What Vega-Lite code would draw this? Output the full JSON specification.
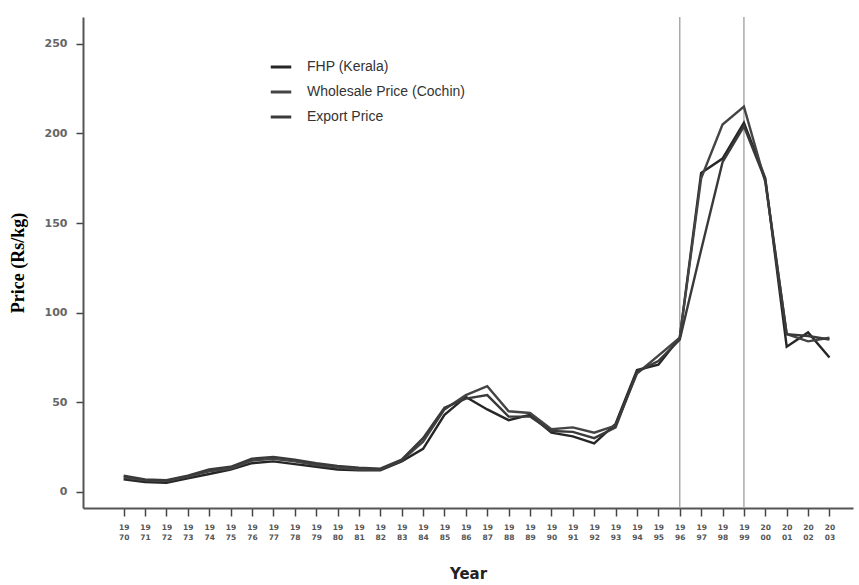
{
  "$schema": "https://vega.github.io/schema/vega-lite/v6.json",
  "width": 770,
  "height": 491,
  "autosize": {"type": "none"},
  "padding": {"left": 83, "top": 17, "right": 6, "bottom": 77},
  "background": "white",
  "config": {
    "view": {"stroke": null},
    "axis": {"grid": false}
  },
  "datasets": {
    "prices": [
      {"year": 1970, "series": "FHP (Kerala)", "price": 7},
      {"year": 1971, "series": "FHP (Kerala)", "price": 5.5},
      {"year": 1972, "series": "FHP (Kerala)", "price": 5},
      {"year": 1973, "series": "FHP (Kerala)", "price": 7.5},
      {"year": 1974, "series": "FHP (Kerala)", "price": 10},
      {"year": 1975, "series": "FHP (Kerala)", "price": 12.5},
      {"year": 1976, "series": "FHP (Kerala)", "price": 16},
      {"year": 1977, "series": "FHP (Kerala)", "price": 17},
      {"year": 1978, "series": "FHP (Kerala)", "price": 15.5},
      {"year": 1979, "series": "FHP (Kerala)", "price": 14},
      {"year": 1980, "series": "FHP (Kerala)", "price": 12.5},
      {"year": 1981, "series": "FHP (Kerala)", "price": 12},
      {"year": 1982, "series": "FHP (Kerala)", "price": 12},
      {"year": 1983, "series": "FHP (Kerala)", "price": 17},
      {"year": 1984, "series": "FHP (Kerala)", "price": 24},
      {"year": 1985, "series": "FHP (Kerala)", "price": 43},
      {"year": 1986, "series": "FHP (Kerala)", "price": 53},
      {"year": 1987, "series": "FHP (Kerala)", "price": 46},
      {"year": 1988, "series": "FHP (Kerala)", "price": 40},
      {"year": 1989, "series": "FHP (Kerala)", "price": 43},
      {"year": 1990, "series": "FHP (Kerala)", "price": 33},
      {"year": 1991, "series": "FHP (Kerala)", "price": 31},
      {"year": 1992, "series": "FHP (Kerala)", "price": 27},
      {"year": 1993, "series": "FHP (Kerala)", "price": 38},
      {"year": 1994, "series": "FHP (Kerala)", "price": 68},
      {"year": 1995, "series": "FHP (Kerala)", "price": 71},
      {"year": 1996, "series": "FHP (Kerala)", "price": 86},
      {"year": 1997, "series": "FHP (Kerala)", "price": 178},
      {"year": 1998, "series": "FHP (Kerala)", "price": 186},
      {"year": 1999, "series": "FHP (Kerala)", "price": 206},
      {"year": 2000, "series": "FHP (Kerala)", "price": 175},
      {"year": 2001, "series": "FHP (Kerala)", "price": 81},
      {"year": 2002, "series": "FHP (Kerala)", "price": 89},
      {"year": 2003, "series": "FHP (Kerala)", "price": 75},

      {"year": 1970, "series": "Wholesale Price (Cochin)", "price": 8},
      {"year": 1971, "series": "Wholesale Price (Cochin)", "price": 6.5},
      {"year": 1972, "series": "Wholesale Price (Cochin)", "price": 6},
      {"year": 1973, "series": "Wholesale Price (Cochin)", "price": 8.5},
      {"year": 1974, "series": "Wholesale Price (Cochin)", "price": 11.5},
      {"year": 1975, "series": "Wholesale Price (Cochin)", "price": 13},
      {"year": 1976, "series": "Wholesale Price (Cochin)", "price": 17.5},
      {"year": 1977, "series": "Wholesale Price (Cochin)", "price": 18.5},
      {"year": 1978, "series": "Wholesale Price (Cochin)", "price": 17},
      {"year": 1979, "series": "Wholesale Price (Cochin)", "price": 15},
      {"year": 1980, "series": "Wholesale Price (Cochin)", "price": 13.5},
      {"year": 1981, "series": "Wholesale Price (Cochin)", "price": 12.5},
      {"year": 1982, "series": "Wholesale Price (Cochin)", "price": 12.5},
      {"year": 1983, "series": "Wholesale Price (Cochin)", "price": 17.5},
      {"year": 1984, "series": "Wholesale Price (Cochin)", "price": 28},
      {"year": 1985, "series": "Wholesale Price (Cochin)", "price": 46},
      {"year": 1986, "series": "Wholesale Price (Cochin)", "price": 54},
      {"year": 1987, "series": "Wholesale Price (Cochin)", "price": 59},
      {"year": 1988, "series": "Wholesale Price (Cochin)", "price": 45},
      {"year": 1989, "series": "Wholesale Price (Cochin)", "price": 44},
      {"year": 1990, "series": "Wholesale Price (Cochin)", "price": 35},
      {"year": 1991, "series": "Wholesale Price (Cochin)", "price": 36},
      {"year": 1992, "series": "Wholesale Price (Cochin)", "price": 33},
      {"year": 1993, "series": "Wholesale Price (Cochin)", "price": 37},
      {"year": 1994, "series": "Wholesale Price (Cochin)", "price": 66},
      {"year": 1995, "series": "Wholesale Price (Cochin)", "price": 76},
      {"year": 1996, "series": "Wholesale Price (Cochin)", "price": 86},
      {"year": 1997, "series": "Wholesale Price (Cochin)", "price": 175},
      {"year": 1998, "series": "Wholesale Price (Cochin)", "price": 205},
      {"year": 1999, "series": "Wholesale Price (Cochin)", "price": 215},
      {"year": 2000, "series": "Wholesale Price (Cochin)", "price": 173},
      {"year": 2001, "series": "Wholesale Price (Cochin)", "price": 88},
      {"year": 2002, "series": "Wholesale Price (Cochin)", "price": 84},
      {"year": 2003, "series": "Wholesale Price (Cochin)", "price": 86},

      {"year": 1970, "series": "Export Price", "price": 9},
      {"year": 1971, "series": "Export Price", "price": 7},
      {"year": 1972, "series": "Export Price", "price": 6.5},
      {"year": 1973, "series": "Export Price", "price": 9},
      {"year": 1974, "series": "Export Price", "price": 12.5},
      {"year": 1975, "series": "Export Price", "price": 14},
      {"year": 1976, "series": "Export Price", "price": 18.5},
      {"year": 1977, "series": "Export Price", "price": 19.5},
      {"year": 1978, "series": "Export Price", "price": 18},
      {"year": 1979, "series": "Export Price", "price": 16},
      {"year": 1980, "series": "Export Price", "price": 14.5},
      {"year": 1981, "series": "Export Price", "price": 13.5},
      {"year": 1982, "series": "Export Price", "price": 13},
      {"year": 1983, "series": "Export Price", "price": 18},
      {"year": 1984, "series": "Export Price", "price": 30},
      {"year": 1985, "series": "Export Price", "price": 47},
      {"year": 1986, "series": "Export Price", "price": 52},
      {"year": 1987, "series": "Export Price", "price": 54},
      {"year": 1988, "series": "Export Price", "price": 42},
      {"year": 1989, "series": "Export Price", "price": 42},
      {"year": 1990, "series": "Export Price", "price": 34},
      {"year": 1991, "series": "Export Price", "price": 33.5},
      {"year": 1992, "series": "Export Price", "price": 30},
      {"year": 1993, "series": "Export Price", "price": 36},
      {"year": 1994, "series": "Export Price", "price": 67},
      {"year": 1995, "series": "Export Price", "price": 73},
      {"year": 1996, "series": "Export Price", "price": 85},
      {"year": 1997, "series": "Export Price", "price": 135},
      {"year": 1998, "series": "Export Price", "price": 184},
      {"year": 1999, "series": "Export Price", "price": 204},
      {"year": 2000, "series": "Export Price", "price": 174},
      {"year": 2001, "series": "Export Price", "price": 88},
      {"year": 2002, "series": "Export Price", "price": 87},
      {"year": 2003, "series": "Export Price", "price": 85}
    ],
    "refs": [
      {"year": 1996},
      {"year": 1999}
    ]
  },
  "layer": [
    {
      "data": {"name": "refs"},
      "mark": {"type": "rule", "color": "#aaaaaa", "strokeWidth": 1.5},
      "encoding": {
        "x": {"field": "year", "type": "quantitative", "scale": {"domain": [1968.1, 2004.1], "nice": false, "zero": false}}
      }
    },
    {
      "data": {"name": "prices"},
      "mark": {"type": "line", "strokeWidth": 2.4, "strokeJoin": "miter"},
      "encoding": {
        "x": {
          "field": "year",
          "type": "quantitative",
          "scale": {"domain": [1968.1, 2004.1], "nice": false, "zero": false},
          "axis": {
            "title": "Year",
            "titleFont": "DejaVu Sans",
            "titleFontSize": 15,
            "titleFontWeight": "bold",
            "titleColor": "#222",
            "titlePadding": 26,
            "values": [1970,1971,1972,1973,1974,1975,1976,1977,1978,1979,1980,1981,1982,1983,1984,1985,1986,1987,1988,1989,1990,1991,1992,1993,1994,1995,1996,1997,1998,1999,2000,2001,2002,2003],
            "tickCount": 50,
            "labelExpr": "[substring(toString(datum.value),0,2), substring(toString(datum.value),2,4)]",
            "labelFont": "DejaVu Sans",
            "labelFontSize": 7.5,
            "labelFontWeight": "bold",
            "labelColor": "#555",
            "labelLineHeight": 10,
            "labelPadding": 7,
            "labelAngle": 0,
            "labelOverlap": false,
            "labelFlush": false,
            "labelBound": false,
            "ticks": true,
            "tickSize": 8,
            "tickWidth": 1.5,
            "tickColor": "#444",
            "domainColor": "#555",
            "domainWidth": 2
          }
        },
        "y": {
          "field": "price",
          "type": "quantitative",
          "scale": {"domain": [-9, 265], "nice": false, "zero": false},
          "axis": {
            "title": "Price (Rs/kg)",
            "titleFont": "Liberation Serif",
            "titleFontSize": 18,
            "titleFontWeight": "bold",
            "titleColor": "#000",
            "titlePadding": 17,
            "values": [0, 50, 100, 150, 200, 250],
            "labelFont": "DejaVu Sans",
            "labelFontSize": 11,
            "labelFontWeight": "bold",
            "labelColor": "#666",
            "labelPadding": 9,
            "tickSize": 7,
            "tickWidth": 1.5,
            "tickColor": "#444",
            "domainColor": "#555",
            "domainWidth": 2
          }
        },
        "color": {
          "field": "series",
          "type": "nominal",
          "sort": ["FHP (Kerala)", "Wholesale Price (Cochin)", "Export Price"],
          "scale": {"domain": ["FHP (Kerala)", "Wholesale Price (Cochin)", "Export Price"], "range": ["#262626", "#444444", "#3a3a3a"]},
          "legend": {
            "title": null,
            "orient": "none",
            "legendX": 186,
            "legendY": 38,
            "symbolType": "stroke",
            "symbolSize": 420,
            "symbolStrokeWidth": 3,
            "labelFont": "Liberation Sans",
            "labelFontSize": 14,
            "labelColor": "#333",
            "labelOffset": 14,
            "rowPadding": 6
          }
        },
        "detail": {"field": "series"}
      }
    }
  ]
}
